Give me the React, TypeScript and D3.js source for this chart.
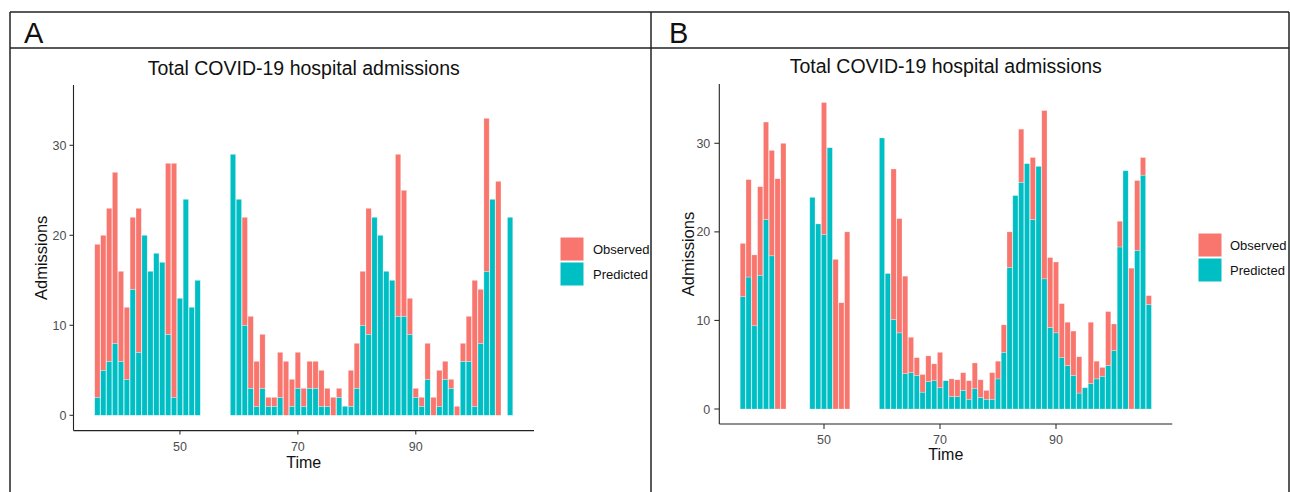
import React from "react";
import * as d3 from "d3";

// ---------- data ----------
const timeA = [
  36, 37, 38, 39, 40, 41, 42, 43, 44, 45, 46, 47, 48, 49, 50, 51, 52, 53,
  59, 60, 61, 62, 63, 64, 65, 66, 67, 68, 69, 70, 71, 72, 73, 74, 75, 76, 77, 78, 79, 80,
  81, 82, 83, 84, 85, 86, 87, 88, 89, 90, 91, 92, 93, 94, 95, 96, 97, 98, 99, 100,
  101, 102, 103, 104, 106,
];
const predictedA = [
  2, 5, 6, 8, 6, 4, 14, 7, 20, 16, 18, 17, 9, 2, 13, 24, 12, 15,
  29, 24, 10, 3, 1, 3, 1, 1, 2, 0, 1, 3, 1, 3, 3, 1, 1, 0, 2, 1, 1, 3,
  10, 9, 22, 20, 16, 15, 11, 11, 9, 2, 1, 4, 0, 1, 4, 3, 0, 6, 6, 1,
  8, 16, 24, 0, 22,
];
const observedA = [
  17, 15, 17, 19, 10, 8, 8, 16, 0, 0, 0, 0, 19, 26, 0, 0, 0, 0,
  0, 0, 12, 8, 5, 6, 1, 1, 5, 6, 3, 4, 2, 3, 3, 4, 2, 2, 1, 0, 4, 5,
  6, 14, 0, 0, 0, 0, 18, 14, 4, 1, 1, 4, 2, 4, 2, 1, 1, 2, 5, 14,
  6, 17, 0, 26, 0,
];

const timeB = [
  36, 37, 38, 39, 40, 41, 42, 43,
  48, 49, 50, 51, 52, 53, 54,
  60, 61, 62, 63, 64, 65, 66, 67, 68, 69, 70, 71, 72, 73, 74, 75, 76, 77, 78, 79, 80,
  81, 82, 83, 84, 85, 86, 87, 88, 89, 90, 91, 92, 93, 94, 95, 96, 97, 98, 99, 100,
  101, 102, 103, 104, 105, 106,
];
const predictedB = [
  12.7, 14.9, 9.4, 15.1, 21.4, 17.3, 0, 0,
  23.9, 20.9, 19.7, 29.5, 0, 0, 0,
  30.6, 15.3, 10.1, 8.6, 4.0, 4.1, 3.8, 1.9, 3.1, 3.2, 2.4, 3.2, 1.4, 1.4, 2.1, 1.1, 2.3, 1.3, 1.1, 1.1, 3.4,
  6.4, 16.0, 24.1, 25.6, 27.7, 21.4, 27.4, 14.7, 9.2, 8.6, 5.8, 4.9, 3.8, 1.8, 2.4, 2.9, 3.4, 3.7, 4.9, 6.6,
  18.3, 26.9, 0, 17.9, 26.4, 11.8,
];
const observedB = [
  6.0, 11.0, 8.0, 10.0, 11.0, 11.9, 26.0, 30.0,
  0, 0, 14.9, 0, 16.9, 12.0, 20.0,
  0, 0, 17.0, 12.9, 11.0, 4.0, 2.0, 2.0, 2.9, 1.9, 4.0, 0, 2.0, 1.9, 2.0, 2.1, 2.9, 2.0, 1.0, 3.0, 2.0,
  3.1, 4.0, 0, 6.0, 0, 7.0, 0, 19.0, 7.9, 8.0, 6.1, 4.9, 5.0, 4.1, 0, 6.9, 2.0, 1.0, 6.1, 3.0,
  2.9, 0, 15.9, 7.9, 2.0, 1.0,
];

const yTickValues = [0, 10, 20, 30];
const xTickValues = [50, 70, 90];
const stackKeys = ["Predicted", "Observed"];
const legendLabels = ["Observed", "Predicted"];
const panelLabels = ["A", "B"];
const chartTitle = "Total COVID-19 hospital admissions";
const xTitle = "Time";
const yTitle = "Admissions";

// ---------- style / layout ----------
const FONT = "'Liberation Sans', Arial, Helvetica, sans-serif";
const COLORS: Record<string, string> = { Observed: "#F8766D", Predicted: "#00BFC4" };
const X_DOMAIN = [31.95, 110.05];
const Y_EXTENT = [-1.7, 36.7];

type Geom = {
  left: number; right: number; zeroY: number; thirtyY: number;
  titleY: number; xLabelY: number; xTitleY: number; yTitleX: number;
  tickLen: number; yLabelGap: number;
  legX: number; legY: number; legTextX: number;
};

const geomA: Geom = {
  left: 73.5, right: 534, zeroY: 415.3, thirtyY: 145.3,
  titleY: 75, xLabelY: 451, xTitleY: 468, yTitleX: 47,
  tickLen: 4, yLabelGap: 7,
  legX: 560, legY: 237, legTextX: 593,
};
const geomB: Geom = {
  left: 719.3, right: 1172.3, zeroY: 409, thirtyY: 143.3,
  titleY: 73, xLabelY: 444, xTitleY: 460, yTitleX: 694,
  tickLen: 5, yLabelGap: 9,
  legX: 1198, legY: 233, legTextX: 1230,
};

function Panel({ times, predicted, observed, g }: { times: number[]; predicted: number[]; observed: number[]; g: Geom }) {
  const x = d3.scaleLinear().domain(X_DOMAIN).range([g.left, g.right]);
  const y = d3.scaleLinear().domain([0, 30]).range([g.zeroY, g.thirtyY]);
  const rows = times.map((t, i) => ({ time: t, Predicted: predicted[i], Observed: observed[i] }));
  const series = d3.stack<any>().keys(stackKeys)(rows);
  const axisTop = y(Y_EXTENT[1]);
  const axisBottom = y(Y_EXTENT[0]);
  const cx = (g.left + g.right) / 2;
  const cy = (axisTop + axisBottom) / 2;
  const halfW = 0.45;

  return (
    <g>
      {series.map((s) => (
        <g key={s.key} fill={COLORS[s.key]}>
          {s.map((d, i) => {
            const t = (d.data as any).time;
            const h = y(d[0]) - y(d[1]);
            if (h <= 0) return null;
            return (
              <rect
                key={i}
                x={x(t - halfW)}
                width={x(t + halfW) - x(t - halfW)}
                y={y(d[1])}
                height={h}
                stroke="#ffffff"
                strokeOpacity={0.45}
                strokeWidth={0.6}
              />
            );
          })}
        </g>
      ))}
      {/* axes */}
      <line x1={g.left} x2={g.left} y1={axisTop} y2={axisBottom} stroke="#222" strokeWidth={1.1} />
      <line x1={g.left} x2={g.right} y1={axisBottom} y2={axisBottom} stroke="#222" strokeWidth={1.1} />
      {yTickValues.map((v) => (
        <g key={"y" + v}>
          <line x1={g.left - g.tickLen} x2={g.left} y1={y(v)} y2={y(v)} stroke="#333" strokeWidth={1.1} />
          <text x={g.left - g.yLabelGap} y={y(v)} dy="0.36em" textAnchor="end" fontSize={12.5} fill="#4d4d4d" fontFamily={FONT}>
            {v}
          </text>
        </g>
      ))}
      {xTickValues.map((v) => (
        <g key={"x" + v}>
          <line x1={x(v)} x2={x(v)} y1={axisBottom} y2={axisBottom + g.tickLen} stroke="#333" strokeWidth={1.1} />
          <text x={x(v)} y={g.xLabelY} textAnchor="middle" fontSize={12.5} fill="#4d4d4d" fontFamily={FONT}>
            {v}
          </text>
        </g>
      ))}
      <text x={cx} y={g.titleY} textAnchor="middle" fontSize={19.5} fill="#111" fontFamily={FONT}>
        {chartTitle}
      </text>
      <text x={cx} y={g.xTitleY} textAnchor="middle" fontSize={16} fill="#111" fontFamily={FONT}>
        {xTitle}
      </text>
      <text
        transform={`translate(${g.yTitleX},${cy}) rotate(-90)`}
        textAnchor="middle"
        fontSize={16.5}
        fill="#111"
        fontFamily={FONT}
      >
        {yTitle}
      </text>
      {legendLabels.map((lab, i) => (
        <g key={lab}>
          <rect x={g.legX} y={g.legY + i * 25} width={24} height={24} fill={COLORS[lab]} stroke="#fff" strokeWidth={1} />
          <text x={g.legTextX} y={g.legY + i * 25 + 12} dy="0.36em" fontSize={13} fill="#111" fontFamily={FONT}>
            {lab}
          </text>
        </g>
      ))}
    </g>
  );
}

export default function App() {
  const W = 1290;
  const H = 492;
  return (
    <svg
      width={W}
      height={H}
      style={{ position: "absolute", left: 0, top: 0, background: "#fff" }}
    >
      <rect x={0} y={0} width={W} height={H} fill="#fff" />
      {/* frame */}
      <g stroke="#222" strokeWidth={1.5} fill="none">
        <line x1={10} x2={1289} y1={12} y2={12} />
        <line x1={10} x2={1289} y1={48} y2={48} />
        <line x1={10} x2={10} y1={12} y2={H + 5} />
        <line x1={651} x2={651} y1={12} y2={H + 5} />
        <line x1={1289} x2={1289} y1={12} y2={H + 5} />
      </g>
      <text x={24} y={43} fontSize={29} fill="#111" fontFamily={FONT}>{panelLabels[0]}</text>
      <text x={669} y={43} fontSize={29} fill="#111" fontFamily={FONT}>{panelLabels[1]}</text>
      <Panel times={timeA} predicted={predictedA} observed={observedA} g={geomA} />
      <Panel times={timeB} predicted={predictedB} observed={observedB} g={geomB} />
    </svg>
  );
}
